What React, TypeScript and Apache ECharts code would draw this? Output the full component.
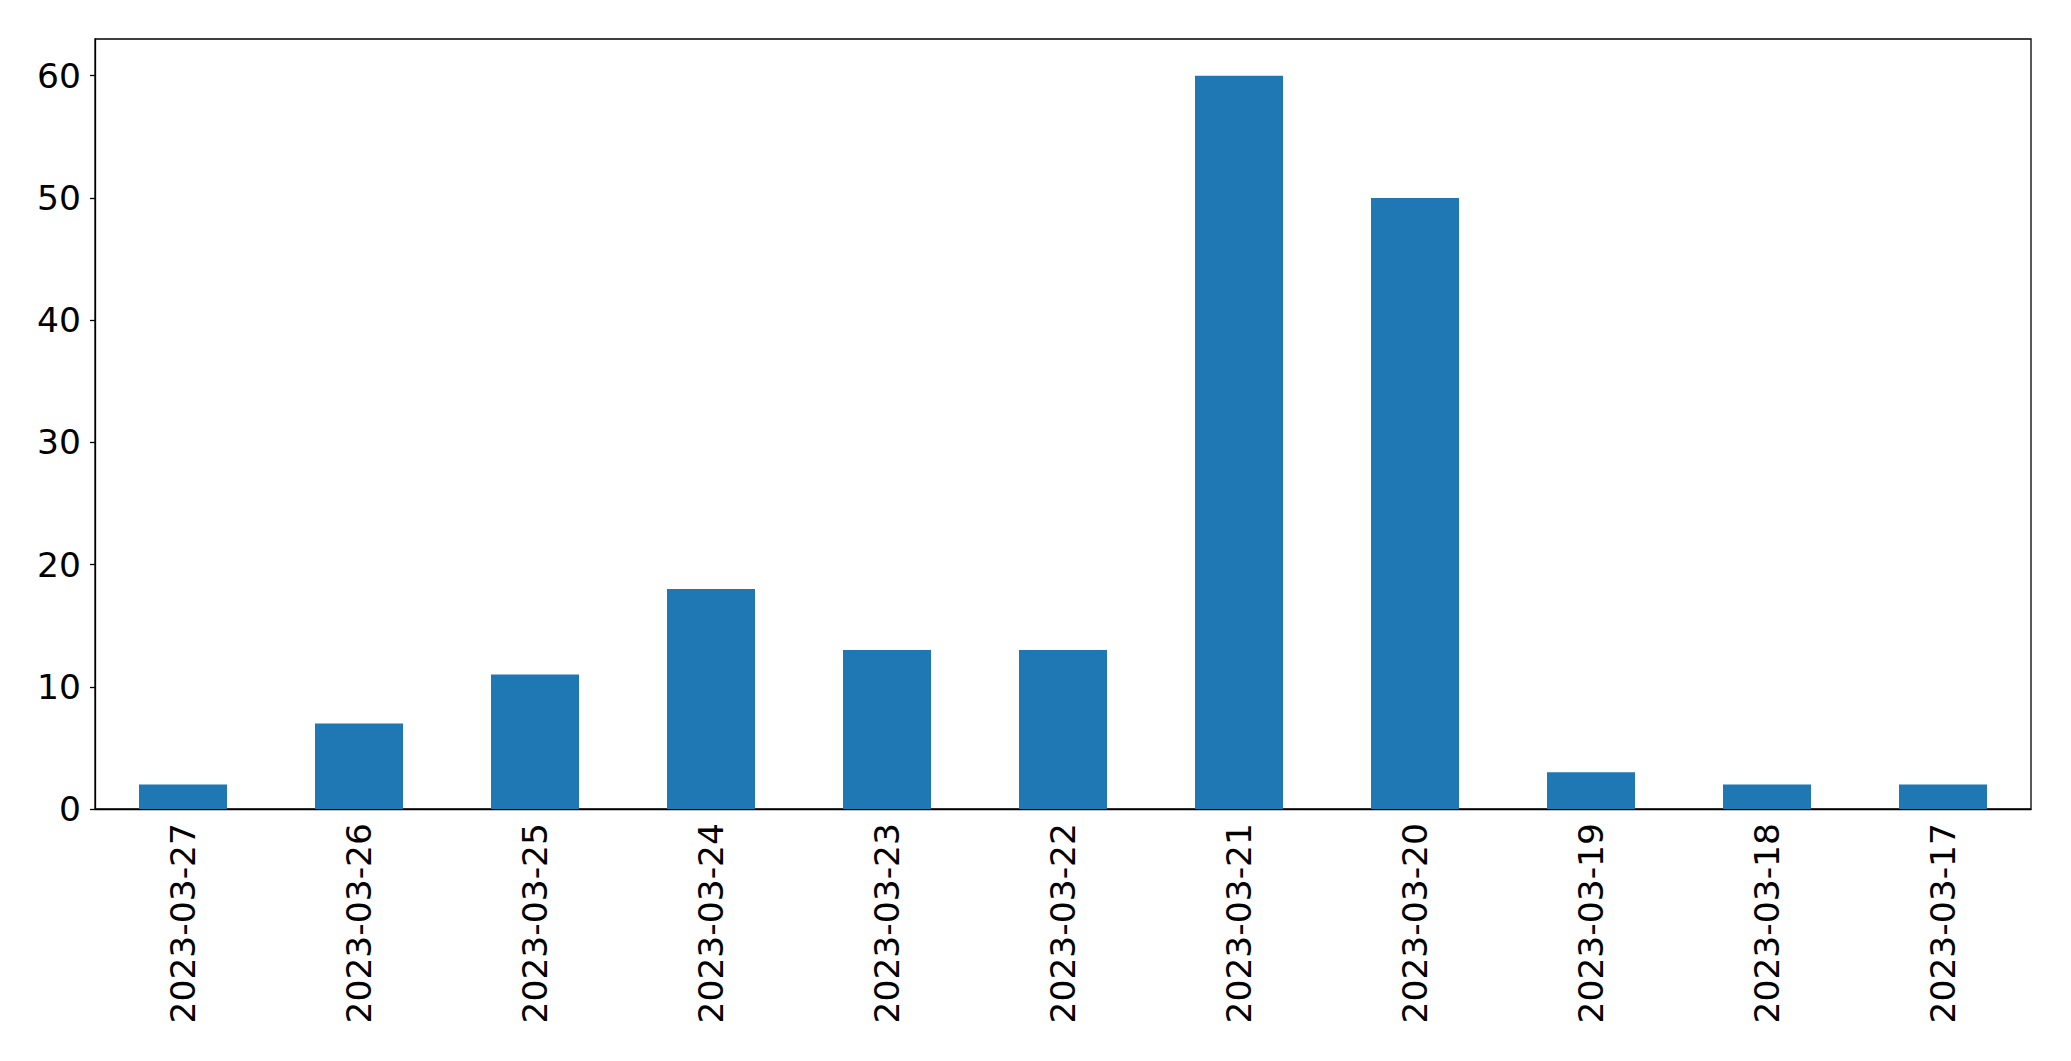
import React, { useEffect, useRef } from "react";
import * as echarts from "echarts";

const categories = [
  "2023-03-27", "2023-03-26", "2023-03-25", "2023-03-24", "2023-03-23", "2023-03-22",
  "2023-03-21", "2023-03-20", "2023-03-19", "2023-03-18", "2023-03-17",
];
const values = [2, 7, 11, 18, 13, 13, 60, 50, 3, 2, 2];
const yTicks = [0, 10, 20, 30, 40, 50, 60];

export default function App() {
  const ref = useRef<HTMLDivElement>(null);
  useEffect(() => {
    document.body.style.margin = "0";
    const chart = echarts.init(ref.current!, null, { renderer: "svg" });
    const font = "DejaVu Sans";
    chart.setOption({
      animation: false,
      backgroundColor: "#ffffff",
      grid: {
        left: 95, right: 40, top: 39, bottom: 252,
        show: true, borderColor: "#000", borderWidth: 1.3, backgroundColor: "transparent",
      },
      xAxis: {
        type: "category",
        data: categories,
        boundaryGap: true,
        axisLine: { lineStyle: { color: "#000", width: 1.3 } },
        axisTick: { alignWithLabel: true, length: 5, lineStyle: { color: "#000", width: 1.3 } },
        axisLabel: {
          rotate: 90, margin: 14, color: "#000", fontFamily: font, fontSize: 34.5, interval: 0,
        },
        splitLine: { show: false },
      },
      yAxis: {
        type: "value",
        min: 0,
        max: 63,
        interval: 10,
        axisLine: { show: true, lineStyle: { color: "#000", width: 1.3 } },
        axisTick: { show: true, length: 5, customValues: yTicks, lineStyle: { color: "#000", width: 1.3 } },
        axisLabel: { margin: 14, color: "#000", fontFamily: font, fontSize: 34.5, customValues: yTicks },
        splitLine: { show: false },
      },
      series: [
        {
          type: "bar",
          data: values,
          barWidth: "50%",
          itemStyle: { color: "#1f77b4" },
        },
      ],
    });
    return () => chart.dispose();
  }, []);
  return <div ref={ref} style={{ width: 2071, height: 1061 }} />;
}
